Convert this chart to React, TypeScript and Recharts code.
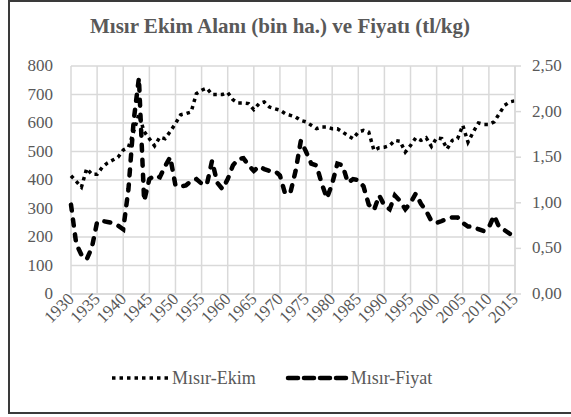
import React from 'react';
import { LineChart, Line, XAxis, YAxis, CartesianGrid } from 'recharts';

const years = [
  1930, 1931, 1932, 1933, 1934, 1935, 1936, 1937, 1938, 1939,
  1940, 1941, 1942, 1943, 1944, 1945, 1946, 1947, 1948, 1949,
  1950, 1951, 1952, 1953, 1954, 1955, 1956, 1957, 1958, 1959,
  1960, 1961, 1962, 1963, 1964, 1965, 1966, 1967, 1968, 1969,
  1970, 1971, 1972, 1973, 1974, 1975, 1976, 1977, 1978, 1979,
  1980, 1981, 1982, 1983, 1984, 1985, 1986, 1987, 1988, 1989,
  1990, 1991, 1992, 1993, 1994, 1995, 1996, 1997, 1998, 1999,
  2000, 2001, 2002, 2003, 2004, 2005, 2006, 2007, 2008, 2009,
  2010, 2011, 2012, 2013, 2014, 2015,
];

// ekim alanı, bin ha.
const ekim = [
  415, 395, 375, 440, 420, 420, 445, 460, 470, 480,
  505, 515, 570, 630, 570, 545, 520, 550, 545, 570,
  598, 629, 633, 639, 703, 715, 722, 700, 700, 700,
  707, 682, 670, 670, 668, 647, 668, 674, 656, 650,
  645, 633, 627, 621, 609, 604, 592, 580, 586, 586,
  580, 580, 568, 556, 545, 568, 574, 568, 504, 513,
  515, 521, 539, 536, 498, 521, 548, 539, 548, 518,
  548, 545, 509, 539, 545, 592, 533, 568, 600, 595,
  595, 604, 633, 662, 674, 678,
];

// fiyat, tl/kg
const fiyat = [
  0.98, 0.55, 0.43, 0.38, 0.51, 0.79, 0.8, 0.79, 0.78, 0.75,
  0.71, 1.15, 1.9, 2.37, 1.02, 1.26, 1.3, 1.28, 1.4, 1.5,
  1.19, 1.18, 1.19, 1.24, 1.26, 1.21, 1.2, 1.46, 1.22, 1.15,
  1.26, 1.41, 1.48, 1.49, 1.41, 1.35, 1.4, 1.37, 1.35, 1.35,
  1.3, 1.1, 1.11, 1.35, 1.68, 1.56, 1.43, 1.41, 1.21, 1.05,
  1.21, 1.43, 1.41, 1.22, 1.26, 1.25, 1.18, 0.98, 0.92, 1.08,
  0.97, 0.93, 1.08, 1.02, 0.93, 1.0, 1.1, 0.99, 0.91, 0.8,
  0.78, 0.8, 0.83, 0.84, 0.84, 0.78, 0.74, 0.74, 0.71, 0.69,
  0.73, 0.86, 0.73, 0.7, 0.66, 0.64,
];

const yearTicks = [1930, 1935, 1940, 1945, 1950, 1955, 1960, 1965, 1970, 1975, 1980, 1985, 1990, 1995, 2000, 2005, 2010, 2015];
const leftTicks = [0, 100, 200, 300, 400, 500, 600, 700, 800];
const rightTicks = [0, 0.5, 1, 1.5, 2, 2.5];

const data = years.map((year, i) => ({ year, ekim: ekim[i], fiyat: fiyat[i] }));

const FONT = 'Liberation Serif';
const GRAY = '#595959';
const txt = { fontFamily: FONT, fontSize: 17, fill: GRAY };

const YearTick = (props: any) => {
  const { x, y, payload } = props;
  return (
    <text x={x + 4} y={y + 2} transform={`rotate(-45 ${x + 4} ${y + 2})`} textAnchor="end" style={txt}>
      {payload.value}
    </text>
  );
};

const LeftTick = (props: any) => {
  const { x, y, payload } = props;
  return (
    <text x={x} y={y} dy={5} textAnchor="end" style={txt}>
      {payload.value}
    </text>
  );
};

const RightTick = (props: any) => {
  const { x, y, payload } = props;
  return (
    <text x={x} y={y} dy={5} textAnchor="start" style={txt}>
      {payload.value.toFixed(2).replace('.', ',')}
    </text>
  );
};

export default function App() {
  return (
    <div style={{ position: 'fixed', left: 0, top: 0, width: 571, height: 417, overflow: 'hidden', background: '#fff', fontFamily: FONT }}>
      <div
        style={{
          position: 'absolute', left: 8, top: 0, width: 620, height: 414,
          border: '2px solid #3a3a3a', boxSizing: 'border-box',
        }}
      />
      <div
        style={{
          position: 'absolute', left: 0, top: 14, width: 560, textAlign: 'center',
          fontWeight: 'bold', fontSize: 21, color: GRAY,
        }}
      >
        Mısır Ekim Alanı (bin ha.) ve Fiyatı (tl/kg)
      </div>
      <div style={{ position: 'absolute', left: 0, top: 0 }}>
        <LineChart width={571} height={417} data={data} margin={{ top: 66, right: 6, bottom: 63, left: 11 }}>
          <CartesianGrid yAxisId="left" stroke="#d9d9d9" strokeWidth={1.5} />
          <XAxis
            dataKey="year"
            type="number"
            domain={[1930, 2015]}
            ticks={yearTicks}
            interval={0}
            tick={<YearTick />}
            tickLine={false}
            axisLine={{ stroke: '#d9d9d9', strokeWidth: 1.5 }}
            height={60}
            tickSize={0}
            tickMargin={4}
          />
          <YAxis
            yAxisId="left"
            domain={[0, 800]}
            ticks={leftTicks}
            interval={0}
            width={60}
            axisLine={false}
            tickLine={false}
            tickSize={0}
            tickMargin={18}
            tick={<LeftTick />}
          />
          <YAxis
            yAxisId="right"
            orientation="right"
            domain={[0, 2.5]}
            ticks={rightTicks}
            interval={0}
            width={50}
            axisLine={{ stroke: '#d9d9d9', strokeWidth: 1.5 }}
            tickLine={{ stroke: '#d9d9d9', strokeWidth: 1.5 }}
            tickSize={6}
            tickMargin={11}
            tick={<RightTick />}
          />
          <Line
            yAxisId="left"
            dataKey="ekim"
            type="linear"
            stroke="#000"
            strokeWidth={3.5}
            strokeDasharray="3.5 4"
            dot={false}
            isAnimationActive={false}
          />
          <Line
            yAxisId="right"
            dataKey="fiyat"
            type="linear"
            stroke="#000"
            strokeWidth={4.5}
            strokeDasharray="6 9"
            strokeLinecap="round"
            dot={false}
            isAnimationActive={false}
          />
        </LineChart>
      </div>
      <div
        style={{
          position: 'absolute', left: 0, top: 366, width: 571, display: 'flex', alignItems: 'center',
          fontSize: 18, color: GRAY,
        }}
      >
        <svg width={60} height={24} style={{ marginLeft: 110 }}>
          <line x1={2} y1={12} x2={58} y2={12} stroke="#000" strokeWidth={3.5} strokeDasharray="3.5 4" />
        </svg>
        <span style={{ marginLeft: 2 }}>Mısır-Ekim</span>
        <svg width={66} height={24} style={{ marginLeft: 28 }}>
          <line x1={4} y1={12} x2={62} y2={12} stroke="#000" strokeWidth={4.5} strokeDasharray="10 6" strokeLinecap="round" />
        </svg>
        <span style={{ marginLeft: 1 }}>Mısır-Fiyat</span>
      </div>
    </div>
  );
}
